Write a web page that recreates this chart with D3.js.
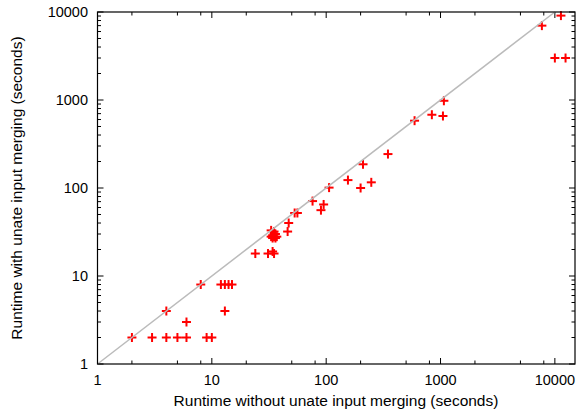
<!DOCTYPE html>
<html>
<head>
<meta charset="utf-8">
<script src="https://cdn.jsdelivr.net/npm/d3@7"></script>
<style>
  body { margin: 0; background: #fff; }
  text { font-family: "Liberation Sans", Arial, sans-serif; fill: #000; }
</style>
</head>
<body>
<div id="chart"></div>
<script>
// runtime without merging (x) vs with merging (y), seconds
const withoutMerging = [2, 3, 4, 4, 5, 6, 6, 9, 10, 13, 8, 12, 13, 14, 15,
  24, 31, 34, 35, 33, 34, 34, 35, 36, 36, 37, 35, 33, 35, 46, 47, 53, 56,
  76, 90, 95, 106, 155, 200, 248, 210, 347, 593, 840, 1070, 1050,
  7700, 11300, 10000, 12400];
const withMerging = [2, 2, 2, 4, 2, 2, 3, 2, 2, 4, 8, 8, 8, 8, 8,
  18, 18, 19, 18, 28, 27, 29, 28, 27, 30, 28, 30, 33, 32, 32, 40, 52, 52,
  71, 56, 65, 101, 123, 100, 116, 186, 243, 582, 680, 980, 658,
  7000, 9100, 3000, 3000];
const majorTicks = [1, 10, 100, 1000, 10000];
const xMinor = [2, 5, 8];
const yMinor = [2, 3, 4, 5, 6, 7, 8, 9];

const points = withoutMerging.map((x, i) => ({ x: x, y: withMerging[i] }));

const W = 579, H = 414;
const margin = { top: 12, right: 4, bottom: 50, left: 97.5 };
const width = W - margin.left - margin.right;
const height = H - margin.top - margin.bottom;

const svg = d3.select("#chart").append("svg")
  .attr("width", W)
  .attr("height", H);

const g = svg.append("g")
  .attr("transform", `translate(${margin.left},${margin.top})`);

const x = d3.scaleLog().domain([1, 15000]).range([0, width]);
const y = d3.scaleLog().domain([1, 10000]).range([height, 0]);

// minor ticks on every decade
const decades = [1, 10, 100, 1000];
const xMinorVals = decades.flatMap(d => xMinor.map(m => d * m)).filter(v => v < 15000);
const yMinorVals = decades.flatMap(d => yMinor.map(m => d * m));

function tickLines(sel, vals, scale, horiz, len, far) {
  vals.forEach(v => {
    const p = scale(v);
    if (horiz) {
      sel.append("line").attr("x1", p).attr("x2", p).attr("y1", height).attr("y2", height - len);
      sel.append("line").attr("x1", p).attr("x2", p).attr("y1", 0).attr("y2", len);
    } else {
      sel.append("line").attr("y1", p).attr("y2", p).attr("x1", 0).attr("x2", len);
      sel.append("line").attr("y1", p).attr("y2", p).attr("x1", far).attr("x2", far - len);
    }
  });
}

const ticks = g.append("g").attr("stroke", "#000").attr("stroke-width", 1);
tickLines(ticks, majorTicks, x, true, 6);
tickLines(ticks, xMinorVals, x, true, 3.5);
tickLines(ticks, majorTicks, y, false, 6, width);
tickLines(ticks, yMinorVals, y, false, 3.5, width);

// tick labels
g.selectAll(".xl").data(majorTicks).enter().append("text")
  .attr("x", d => x(d))
  .attr("y", height + 21)
  .attr("text-anchor", "middle")
  .style("font-size", "14.5px")
  .text(d => d);

g.selectAll(".yl").data(majorTicks).enter().append("text")
  .attr("x", -9.5)
  .attr("y", d => y(d) + 5)
  .attr("text-anchor", "end")
  .style("font-size", "14.5px")
  .text(d => d);

// points
const s = 4.5;
const marks = g.append("g").attr("stroke", "#ff0000").attr("stroke-width", 2);
points.forEach(d => {
  const px = x(d.x), py = y(d.y);
  marks.append("line").attr("x1", px - s).attr("x2", px + s).attr("y1", py).attr("y2", py);
  marks.append("line").attr("x1", px).attr("x2", px).attr("y1", py - s).attr("y2", py + s);
});

// y = x reference line
g.append("line")
  .attr("x1", x(1)).attr("y1", y(1))
  .attr("x2", x(10000)).attr("y2", y(10000))
  .attr("stroke", "#bbbbbb")
  .attr("stroke-width", 1.5);

// frame
g.append("rect")
  .attr("width", width).attr("height", height)
  .attr("fill", "none")
  .attr("stroke", "#000")
  .attr("stroke-width", 1.2);

// axis titles
svg.append("text")
  .attr("x", 336)
  .attr("y", 406)
  .attr("text-anchor", "middle")
  .style("font-size", "15.5px")
  .text("Runtime without unate input merging (seconds)");

svg.append("text")
  .attr("transform", `translate(21.5, ${margin.top + height / 2}) rotate(-90)`)
  .attr("text-anchor", "middle")
  .style("font-size", "15.5px")
  .text("Runtime with unate input merging (seconds)");
</script>
</body>
</html>
